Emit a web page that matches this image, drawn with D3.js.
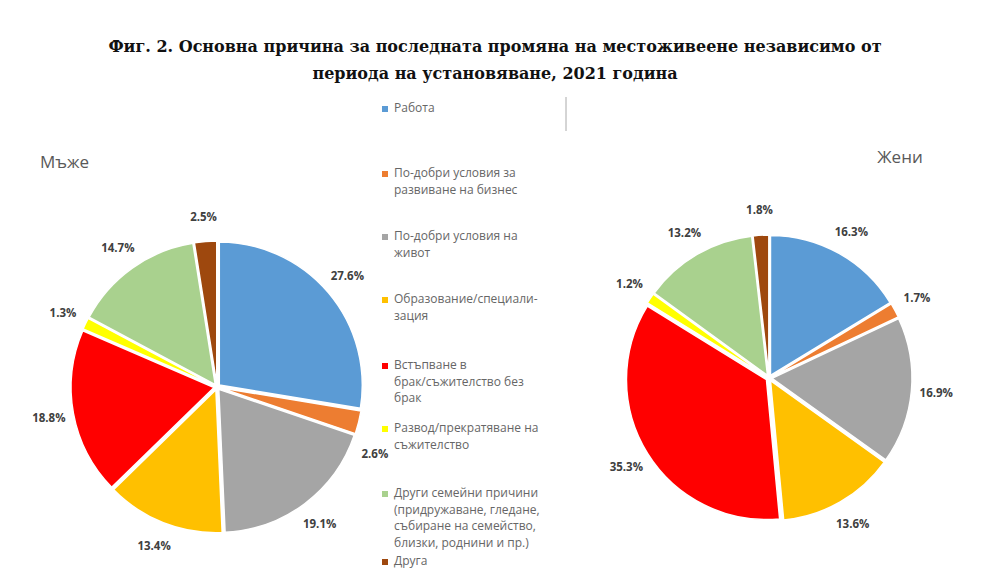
<!DOCTYPE html>
<html><head><meta charset="utf-8">
<script src="https://cdn.jsdelivr.net/npm/d3@7"></script>
<style>body{margin:0;background:#fff}</style>
</head><body>
<script>
const width = 991, height = 575;
const categories = ["Работа","По-добри условия за развиване на бизнес","По-добри условия на живот","Образование/специализация","Встъпване в брак/съжителство без брак","Развод/прекратяване на съжителство","Други семейни причини","Друга"];
const men = [27.6, 2.6, 19.1, 13.4, 18.8, 1.3, 14.7, 2.5];
const women = [16.3, 1.7, 16.9, 13.6, 35.3, 1.2, 13.2, 1.8];
const colors = ["#5b9bd5","#ed7d31","#a5a5a5","#ffc000","#ff0000","#ffff00","#a9d18e","#9e480e"];
const legendLines = [["Работа"],["По-добри условия за","развиване на бизнес"],["По-добри условия на","живот"],["Образование/специали-","зация"],["Встъпване в","брак/съжителство без","брак"],["Развод/прекратяване на","съжителство"],["Други семейни причини","(придружаване, гледане,","събиране на семейство,","близки, роднини и пр.)"],["Друга"]];
const legendY = [112, 177, 240, 303, 369, 432, 497, 565];

const svg = d3.select("body").append("svg").attr("width", width).attr("height", height)
  .style("font-family", "'Open Sans', sans-serif");

const titleStyle = s => s.attr("text-anchor","middle").style("font-family","'DejaVu Serif', serif")
  .style("font-weight","bold").style("font-size","16px").attr("fill","#111");
svg.append("text").attr("x", 495).attr("y", 52).call(titleStyle)
  .text("Фиг. 2. Основна причина за последната промяна на местоживеене независимо от");
svg.append("text").attr("x", 495).attr("y", 79).call(titleStyle)
  .text("периода на установяване, 2021 година");

svg.append("line").attr("x1",566).attr("x2",566).attr("y1",97).attr("y2",131).attr("stroke","#aaa");

svg.append("text").attr("x",40).attr("y",168).style("font-size","17px").attr("fill","#595959").text("Мъже");
svg.append("text").attr("x",900).attr("y",163).style("font-size","17px").attr("fill","#595959").attr("text-anchor","middle").text("Жени");

// small label nudges so thin slices' labels stay clear of the legend
const nudge = {men: {1: [-8, 26]}, women: {}};

function drawPie(values, cx, cy, r, key) {
  const pie = d3.pie().sort(null)(values);
  const arc = d3.arc().innerRadius(0).outerRadius(r);
  const lab = d3.arc().innerRadius(r + 28).outerRadius(r + 28);
  const g = svg.append("g").attr("transform", `translate(${cx},${cy})`);
  g.selectAll("path").data(pie).join("path")
    .attr("d", arc)
    .attr("transform", d => { const [x,y] = d3.arc().innerRadius(0).outerRadius(6).centroid(d); return `translate(${x},${y})`; })
    .attr("fill", (d,i) => colors[i]).attr("stroke","#fff").attr("stroke-width",1.5);
  g.selectAll("text").data(pie).join("text")
    .attr("x", (d,i) => lab.centroid(d)[0] + (nudge[key][i] ? nudge[key][i][0] : 0))
    .attr("y", (d,i) => lab.centroid(d)[1] + 4 + (nudge[key][i] ? nudge[key][i][1] : 0))
    .attr("text-anchor","middle").style("font-size","11.5px").style("font-weight","bold").attr("fill","#404040")
    .text(d => d.data.toFixed(1) + "%");
}
drawPie(men, 217, 387, 143, "men");
drawPie(women, 769, 378, 140, "women");

const lg = svg.append("g");
legendLines.forEach((lines, i) => {
  lg.append("rect").attr("x",382).attr("y",legendY[i]-6).attr("width",6).attr("height",6).attr("fill",colors[i]);
  lines.forEach((t, j) => lg.append("text").attr("x",394).attr("y",legendY[i]+j*16.5)
    .style("font-size","12px").attr("fill","#666").text(t));
});
</script>
</body></html>
